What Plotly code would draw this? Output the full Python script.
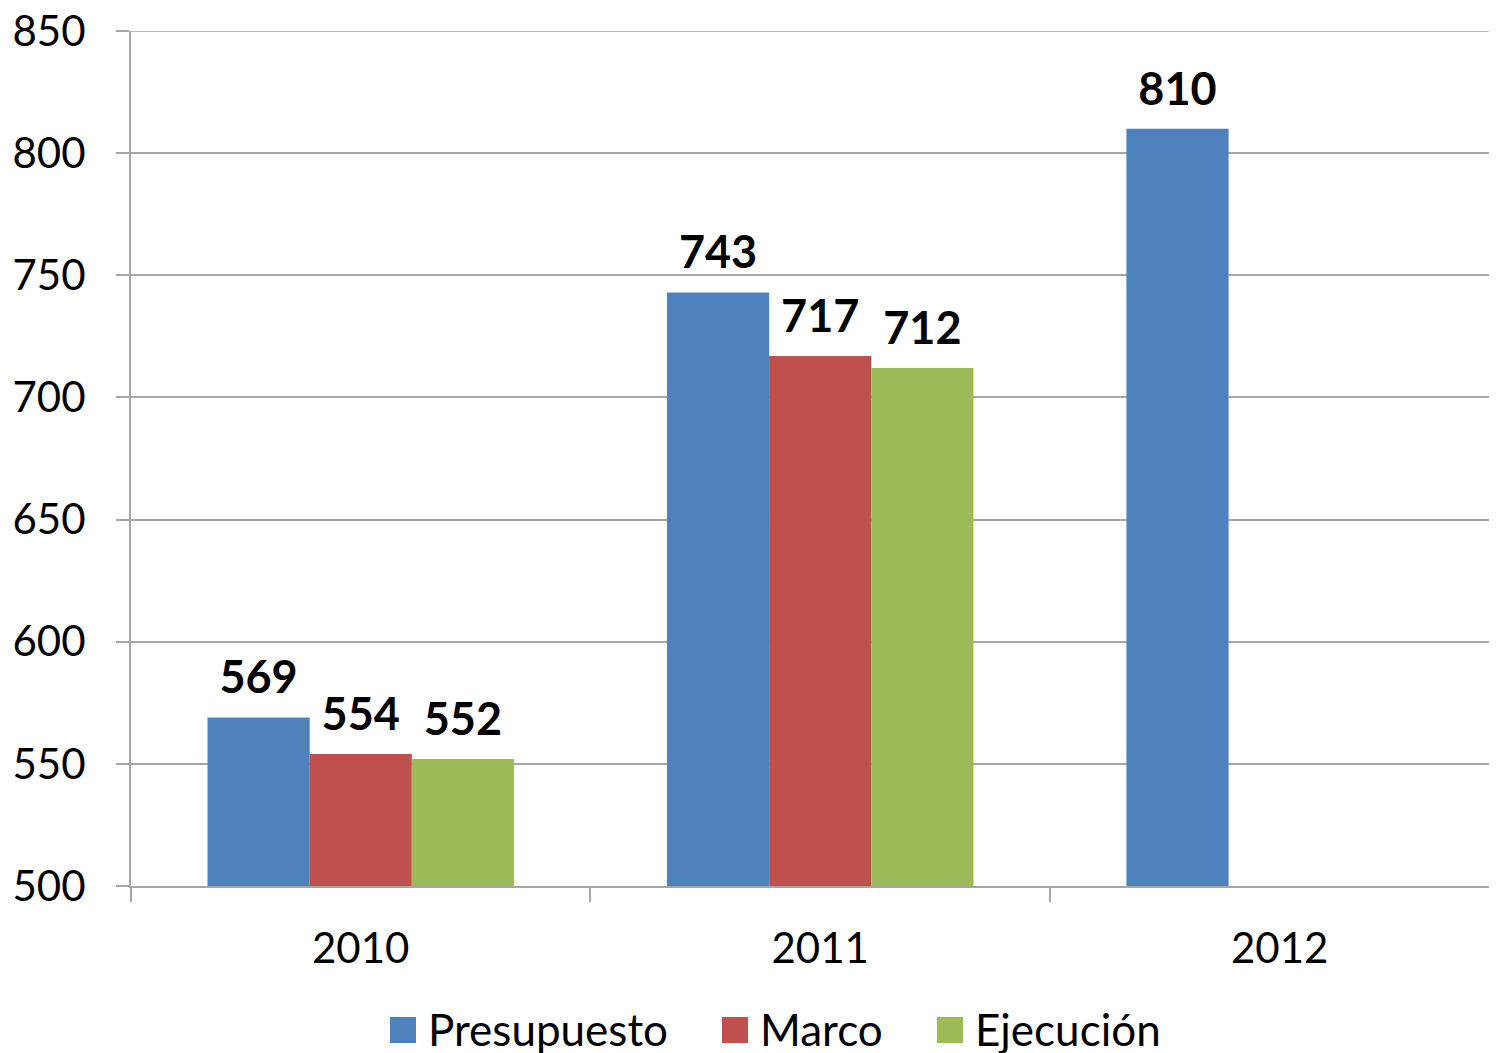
import plotly.graph_objects as go

years = ["2010", "2011", "2012"]
presupuesto = [569, 743, 810]
marco = [554, 717, None]
ejecucion = [552, 712, None]
y_ticks = [500, 550, 600, 650, 700, 750, 800, 850]

FONT = "Lato"
fig = go.Figure()
series = [("Presupuesto", presupuesto, "#4F81BD"),
          ("Marco", marco, "#C0504D"),
          ("Ejecución", ejecucion, "#9BBB59")]
for name, vals, col in series:
    labels = [("" if v is None else
               "<span style='font-size:45px'>%d</span><br>&nbsp;" % v) for v in vals]
    fig.add_trace(go.Bar(
        x=years, y=vals, name=name, marker=dict(color=col, line=dict(width=0)),
        text=labels, textposition="outside", cliponaxis=False, showlegend=False,
        constraintext="none",
        textfont=dict(family=FONT, size=14, color="black", weight="bold"),
    ))

# The page body has an 8px margin, so the figure is sized to fit inside the window
OFF = 8
W, H = 1497 - OFF, 1053 - OFF
L, R, T, B = 131 - OFF, 0, 31 - OFF, 167
pw, ph = W - L - R, H - T - B
def px(x):  # page pixel -> paper x
    return (x - OFF - L) / pw
def py(y):  # page pixel -> paper y
    return (H - B - (y - OFF)) / ph

# Custom legend (large square swatches) below the plot
leg_x = [390, 722, 937]
for (name, vals, col), lx in zip(series, leg_x):
    fig.add_shape(type="rect", xref="paper", yref="paper",
                  x0=px(lx), x1=px(lx + 26), y0=py(1043), y1=py(1017),
                  fillcolor=col, line=dict(width=0))
    fig.add_annotation(xref="paper", yref="paper", x=px(lx + 36), y=py(1029),
                       xanchor="left", yanchor="middle", showarrow=False, text=name,
                       font=dict(family=FONT, size=44, color="black"))

# top gridline (plotly drops gridlines that sit on the plot edge)
fig.add_shape(type="line", xref="paper", yref="y", x0=0, x1=1,
              y0=y_ticks[-1], y1=y_ticks[-1], line=dict(color="#A6A6A6", width=1.5),
              layer="below")

fig.update_layout(
    width=W, height=H,
    margin=dict(l=L, r=R, t=T, b=B, autoexpand=False),
    paper_bgcolor="white", plot_bgcolor="white",
    barmode="group", bargap=0.333, bargroupgap=0,
    font=dict(family=FONT, size=42, color="black"),
    showlegend=False,
)
fig.update_yaxes(range=[500, 850], tickvals=y_ticks, showgrid=True, gridcolor="#A6A6A6",
                 gridwidth=1.5, showline=True, linecolor="#A6A6A6", linewidth=2,
                 ticks="outside", ticklen=13, tickcolor="#A6A6A6", tickwidth=2,
                 ticklabelstandoff=22, ticklabeloverflow="allow", zeroline=False,
                 automargin=False, tickfont=dict(family=FONT, size=42, color="black"))
# the reference's last category runs slightly past the right edge of the picture
fig.update_xaxes(type="category", range=[-0.5, 2.473], showline=True, linecolor="#A6A6A6",
                 linewidth=2, ticks="outside", tickson="boundaries", ticklen=14,
                 tickcolor="#A6A6A6", tickwidth=2, showgrid=False, ticklabelstandoff=25,
                 automargin=False, tickfont=dict(family=FONT, size=42, color="black"))

fig.write_html("out.html")
